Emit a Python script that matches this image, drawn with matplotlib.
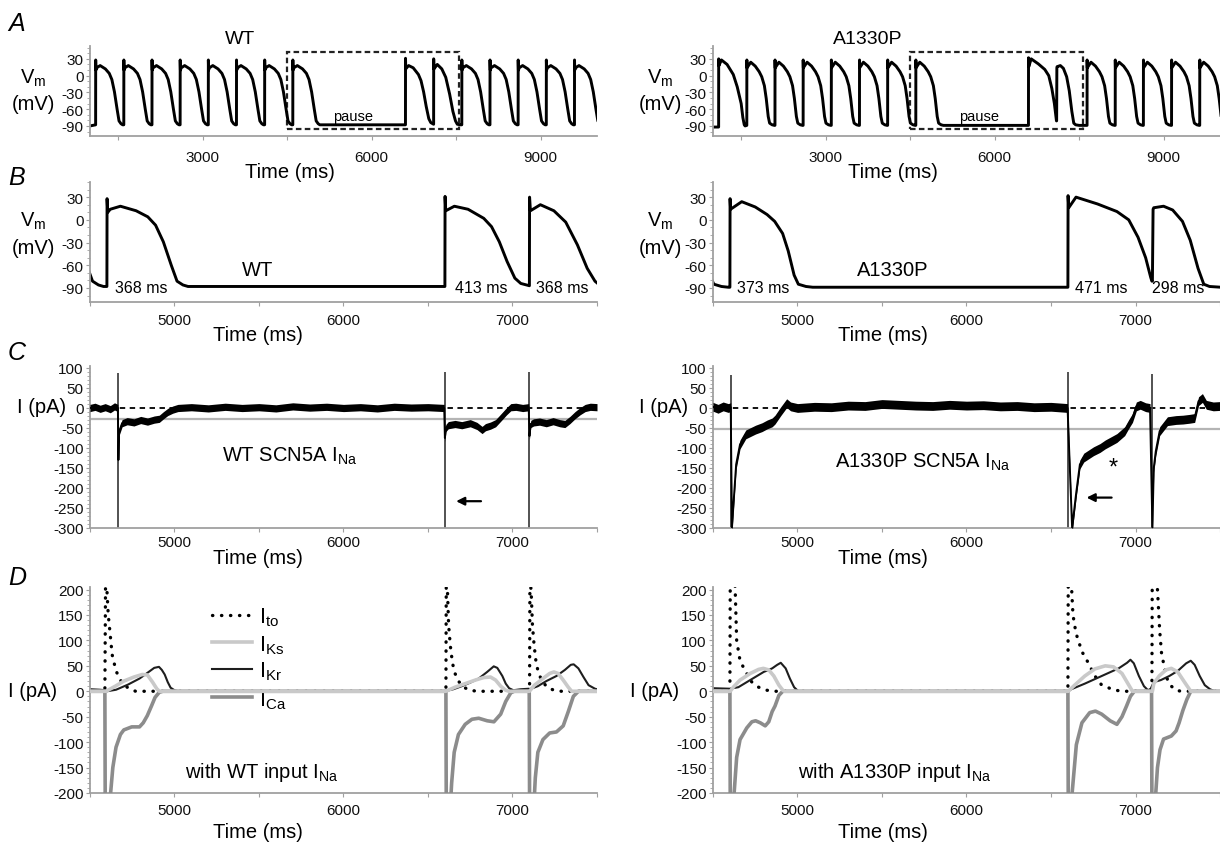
import matplotlib

matplotlib.use("Agg")
import matplotlib.pyplot as plt
import numpy as np
from matplotlib.patches import Rectangle
from matplotlib.ticker import FuncFormatter, MultipleLocator

plt.rcParams["font.family"] = ["Liberation Sans", "DejaVu Sans"]
plt.rcParams["axes.unicode_minus"] = False
plt.rcParams["mathtext.fontset"] = "custom"
plt.rcParams["mathtext.rm"] = "Liberation Sans"
plt.rcParams["mathtext.it"] = "Liberation Sans:italic"

W, H = 1220, 845

# ---- action potential shapes (time from upstroke in ms, mV)
AP_TEMPLATES = {
    "wt_ss": ([0, 1, 5, 20, 80, 173, 242, 288, 334, 381, 415, 450, 480],
              [-88, 28, 10, 14, 18, 12, 4, -7, -29, -60, -81, -86, -88]),
    "wt_pp1": ([0, 1, 5, 56, 137, 230, 276, 322, 368, 414, 449, 484, 499],
               [-88, 31, 12, 18, 14, 2, -9, -29, -55, -77, -84, -86, -87]),
    "wt_pp2": ([0, 1, 6, 65, 145, 215, 284, 342, 388, 420, 480],
               [-87, 30, 12, 20, 12, -3, -33, -64, -81, -87, -88]),
    "mut_first": ([0, 1, 5, 50, 150, 260, 330, 400, 430, 455, 470],
                  [-92, 30, 18, 28, 20, 2, -20, -50, -75, -88, -90]),
    "mut_ss": ([0, 1, 4, 70, 150, 220, 265, 312, 345, 380, 405, 450, 490],
               [-89, 28, 14, 24, 17, 7, -2, -18, -41, -73, -85, -88, -89]),
    "mut_pp1": ([0, 1, 5, 48, 175, 290, 360, 415, 460, 490, 497],
                [-89, 32, 16, 30, 21, 11, 0, -23, -50, -76, -81]),
    "mut_pp2": ([0, 4, 8, 66, 120, 178, 224, 270, 304, 338, 400, 530],
                [-81, 14, 16, 18, 13, -2, -27, -64, -85, -88, -89, -89]),
}

WT_ONSETS = [1100, 1600, 2100, 2600, 3100, 3600, 4100, 4600, 6600, 7100, 7600, 8100, 8600, 9100, 9600]
WT_KINDS = ["wt_ss"] * 8 + ["wt_pp1", "wt_pp2"] + ["wt_ss"] * 5
MUT_ONSETS = [1100, 1600, 2100, 2600, 3100, 3600, 4100, 4600, 6600, 7100, 7640, 8140, 8640, 9140, 9640]
MUT_KINDS = ["mut_first"] + ["mut_ss"] * 7 + ["mut_pp1", "mut_pp2"] + ["mut_ss"] * 5

BOX_T = [4500, 7550]
BOX_V = [-95, 42]

APD_WT = [(4802, "368 ms"), (6818, "413 ms"), (7292, "368 ms")]
APD_MUT = [(4798, "373 ms"), (6798, "471 ms"), (7253, "298 ms")]

# ---- panel C: sodium current traces (ms, pA), drawn as a noisy band of half-width C_*_NOISE
C_WT = [(4500, 0), (4530, 3), (4560, -2), (4590, 2), (4620, -3), (4645, 4), (4665, 0),
        (4668, -130), (4672, -60), (4690, -38), (4720, -33), (4760, -36), (4800, -30),
        (4840, -34), (4880, -29), (4910, -27), (4935, -18), (4960, -10), (4990, -4),
        (5020, 0), (5100, 2), (5200, -1), (5300, 3), (5400, 0), (5500, 2), (5600, -1),
        (5700, 4), (5800, 1), (5900, 3), (6000, 0), (6100, 2), (6200, -1), (6300, 3),
        (6400, 1), (6500, 2), (6596, 0), (6600, -75), (6606, -50), (6620, -43),
        (6660, -40), (6700, -43), (6750, -38), (6790, -45), (6820, -55), (6840, -48),
        (6870, -44), (6900, -38), (6935, -22), (6965, -8), (6990, 2), (7020, 3),
        (7060, 0), (7096, 2), (7100, -70), (7108, -40), (7125, -36), (7160, -34),
        (7200, -38), (7240, -33), (7280, -38), (7310, -40), (7340, -30), (7370, -18),
        (7400, -8), (7430, 0), (7460, 3), (7500, 2)]
C_MUT = [(4500, 3), (4530, -2), (4560, 4), (4590, 0), (4605, 2), (4612, -300),
         (4625, -216), (4637, -141), (4660, -91), (4694, -66), (4752, -54), (4790, -48),
         (4821, -41), (4850, -36), (4867, -29), (4901, -8), (4936, 12), (4959, 4),
         (5000, 0), (5100, 3), (5200, 2), (5300, 6), (5400, 5), (5500, 10), (5600, 8),
         (5700, 6), (5800, 5), (5900, 8), (6000, 6), (6100, 7), (6200, 4), (6300, 5),
         (6400, 2), (6500, 3), (6598, 0), (6625, -300), (6648, -216), (6671, -141),
         (6694, -124), (6752, -108), (6790, -100), (6821, -91), (6860, -82), (6890, -75),
         (6936, -58), (6960, -40), (6982, -25), (7005, 4), (7028, 8), (7060, 2),
         (7086, 0), (7100, -300), (7108, -150), (7120, -108), (7143, -58), (7189, -33),
         (7240, -30), (7281, -29), (7320, -27), (7350, -25), (7373, 17), (7396, 25),
         (7419, 8), (7460, 4), (7500, 5)]
C_WT_NOISE = 9
C_MUT_NOISE = 11
C_WT_SPIKES = [4667, 6598, 7098]
C_WT_SPIKE_TOPS = [87, 90, 90]
C_MUT_SPIKES = [4607, 6602, 7097]
C_MUT_SPIKE_TOPS = [83, 91, 85]
C_WT_REF = -27
C_MUT_REF = -52

# ---- panel D: other currents (ms, pA)
D_WT_ITO = [(4500, 0), (4588, 0), (4592, 215), (4600, 200), (4608, 150), (4620, 110),
            (4631, 72), (4654, 40), (4680, 22), (4700, 12), (4740, 4), (4770, 0),
            (6606, 0), (6608, 215), (6615, 200), (6622, 130), (6632, 90), (6645, 55),
            (6660, 35), (6680, 20), (6710, 8), (6750, 2), (6790, 0), (7101, 0),
            (7103, 215), (7110, 200), (7118, 130), (7128, 90), (7140, 55), (7155, 35),
            (7175, 20), (7205, 8), (7245, 2), (7290, 0), (7500, 0)]
D_WT_IKS = [(4500, 0), (4595, 0), (4650, 10), (4700, 20), (4760, 28), (4810, 33),
            (4840, 32), (4870, 18), (4895, 5), (4910, 0), (6605, 0), (6660, 8),
            (6720, 15), (6780, 22), (6830, 27), (6870, 28), (6900, 22), (6930, 10),
            (6960, 2), (6980, 0), (7100, 0), (7130, 12), (7180, 25), (7220, 35),
            (7245, 38), (7270, 35), (7300, 22), (7330, 8), (7350, 0), (7500, 0)]
D_WT_IKR = [(4500, 4), (4560, 3), (4590, 2), (4600, 0), (4654, 3), (4724, 13),
            (4793, 25), (4839, 36), (4880, 46), (4908, 48), (4925, 42), (4942, 33),
            (4960, 18), (4977, 7), (5000, 2), (5023, 0), (6600, 0), (6650, 4),
            (6700, 10), (6750, 17), (6800, 25), (6850, 38), (6889, 49), (6910, 46),
            (6940, 30), (6960, 15), (6980, 6), (7005, 2), (7050, 4), (7098, 5),
            (7101, 4), (7150, 10), (7200, 20), (7260, 30), (7310, 42), (7345, 52),
            (7362, 53), (7390, 45), (7420, 28), (7450, 12), (7488, 5), (7500, 4)]
D_WT_ICA = [(4500, 0), (4588, 0), (4590, -215), (4618, -215), (4622, -200),
            (4635, -150), (4654, -110), (4680, -85), (4700, -76), (4747, -70),
            (4793, -70), (4815, -62), (4839, -48), (4865, -28), (4885, -12), (4910, -2),
            (4931, 0), (6606, 0), (6608, -215), (6634, -215), (6640, -180), (6655, -120),
            (6680, -85), (6720, -65), (6760, -55), (6800, -53), (6850, -58), (6890, -60),
            (6930, -45), (6960, -20), (6990, -3), (7010, 0), (7099, 0), (7101, -215),
            (7128, -215), (7135, -170), (7150, -120), (7180, -95), (7220, -82),
            (7260, -80), (7300, -68), (7330, -40), (7360, -10), (7390, 0), (7500, 0)]

D_MUT_ITO = [(4500, 0), (4600, 0), (4602, 215), (4630, 215), (4640, 100), (4660, 60),
             (4694, 38), (4730, 18), (4770, 8), (4820, 2), (4870, 0), (6600, 0),
             (6602, 215), (6620, 215), (6630, 150), (6648, 114), (6683, 78), (6717, 58),
             (6760, 30), (6798, 13), (6867, 3), (6920, 0), (7097, 0), (7099, 215),
             (7130, 200), (7143, 120), (7154, 75), (7175, 40), (7189, 23), (7212, 10),
             (7240, 2), (7270, 0), (7500, 0)]
D_MUT_IKS = [(4500, 0), (4602, 0), (4620, 8), (4660, 22), (4720, 35), (4770, 43),
             (4798, 45), (4830, 42), (4860, 30), (4890, 12), (4913, 2), (4924, 0),
             (6602, 0), (6640, 12), (6700, 30), (6760, 44), (6821, 50), (6870, 48),
             (6920, 35), (6950, 18), (6982, 0), (7100, 0), (7108, 15), (7140, 30),
             (7180, 42), (7212, 45), (7250, 38), (7290, 18), (7327, 0), (7500, 0)]
D_MUT_IKR = [(4500, 6), (4600, 5), (4650, 8), (4700, 18), (4750, 28), (4800, 38),
             (4850, 45), (4880, 52), (4901, 56), (4930, 45), (4955, 25), (4980, 8),
             (5005, 0), (6602, 0), (6620, 4), (6700, 15), (6800, 30), (6900, 45),
             (6950, 56), (6970, 62), (6990, 55), (7020, 30), (7050, 10), (7074, 2),
             (7090, 5), (7108, 18), (7150, 22), (7200, 30), (7250, 40), (7300, 55),
             (7327, 60), (7350, 52), (7380, 30), (7410, 12), (7441, 4), (7470, 0),
             (7500, 0)]
D_MUT_ICA = [(4500, 0), (4600, 0), (4602, -215), (4622, -215), (4625, -200),
             (4640, -130), (4660, -95), (4700, -72), (4730, -60), (4752, -58),
             (4780, -62), (4809, -68), (4830, -60), (4850, -40), (4867, -29), (4890, -8),
             (4913, 0), (6600, 0), (6602, -215), (6622, -215), (6625, -200), (6650, -105),
             (6683, -62), (6729, -42), (6763, -39), (6800, -45), (6850, -58), (6890, -65),
             (6920, -50), (6947, -29), (6970, -10), (6993, 0), (7095, 0), (7097, -215),
             (7117, -215), (7120, -200), (7130, -150), (7145, -115), (7166, -94),
             (7212, -88), (7240, -78), (7258, -62), (7280, -38), (7304, -16), (7327, 0),
             (7500, 0)]

LEGEND_LABELS = ["I$_\\mathrm{to}$", "I$_\\mathrm{Ks}$", "I$_\\mathrm{Kr}$", "I$_\\mathrm{Ca}$"]
LEGEND_Y = [150, 96, 44, -12]
LEGEND_T = [5220, 5460]

CURRENT_STYLE = {
    "ito": dict(color="black", lw=2.4, ls=(0, (0.1, 2.6)), dash_capstyle="round", zorder=1),
    "ikr": dict(color="#1e1e1e", lw=1.5, zorder=2),
    "ica": dict(color="#8c8c8c", lw=2.6, zorder=3),
    "iks": dict(color="#c9c9c9", lw=2.6, zorder=4),
}

fig = plt.figure(figsize=(W / 100, H / 100), dpi=100)


def px_axes(x0, y0, x1, y1):
    return fig.add_axes([x0 / W, 1 - y1 / H, (x1 - x0) / W, (y1 - y0) / H])


def ftext(x, y, s, **kw):
    kw.setdefault("ha", "center")
    kw.setdefault("va", "center")
    return fig.text(x / W, 1 - y / H, s, **kw)


def style(ax, xlim, ylim, yticks, xstep, xlabel_every, xpad, xlabel_xy):
    ax.set_xlim(*xlim)
    ax.set_ylim(*ylim)
    ax.patch.set_alpha(0)
    for s in ("top", "right"):
        ax.spines[s].set_visible(False)
    for s in ("left", "bottom"):
        ax.spines[s].set_color("#a0a0a0")
        ax.spines[s].set_linewidth(1.3)
    ax.set_yticks(yticks)
    ax.yaxis.set_minor_locator(MultipleLocator(10))
    ax.xaxis.set_major_locator(MultipleLocator(xstep))
    ax.xaxis.set_major_formatter(
        FuncFormatter(lambda v, p: f"{v:.0f}" if abs(v % xlabel_every) < 1e-6 else ""))
    ax.tick_params(which="both", colors="#a0a0a0", labelcolor="#111111", labelsize=11,
                   direction="out")
    ax.tick_params(which="major", length=3)
    ax.tick_params(which="minor", length=2)
    ax.tick_params(axis="x", pad=xpad)
    ax.tick_params(axis="y", pad=1.5)
    ax.set_xlabel("Time (ms)", fontsize=14.5)
    ax.xaxis.set_label_coords(xlabel_xy[0] / W, 1 - xlabel_xy[1] / H, transform=fig.transFigure)
    ax.xaxis.label.set_va("center")


def build_ap(onsets, kinds, t0, v0):
    t, v = [t0], [v0]
    for on, kind in zip(onsets, kinds):
        tt, vv = AP_TEMPLATES[kind]
        t.extend(on + np.asarray(tt, dtype=float))
        v.extend(vv)
    return np.array(t), np.array(v)


def unzip(pairs):
    arr = np.asarray(pairs, dtype=float)
    return arr[:, 0], arr[:, 1]


COLS = {"left": (90, 597), "right": (713, 1220)}
ROWS = {"A": (47, 137), "B": (183, 303), "C": (367, 529), "D": (588, 794)}

wt_t, wt_v = build_ap(WT_ONSETS, WT_KINDS, 1000, -90)
mut_t, mut_v = build_ap(MUT_ONSETS, MUT_KINDS, 1000, -92)

for col, (t, v, title, title_x, pause_t, apds, ylab_x, box_r, b_lab_t) in {
    "left": (wt_t, wt_v, "WT", 240, 5667, APD_WT, 33, BOX_T[1], 5490),
    "right": (mut_t, mut_v, "A1330P", 868, 5720, APD_MUT, 660, BOX_T[1] + 10, 5565),
}.items():
    x0, x1 = COLS[col]
    # row A: full pacing train
    ax = px_axes(x0, ROWS["A"][0], x1, ROWS["A"][1])
    ax.plot(t, v, color="black", lw=2.1, solid_joinstyle="round")
    ax.add_patch(Rectangle((BOX_T[0], BOX_V[0]), box_r - BOX_T[0], BOX_V[1] - BOX_V[0],
                           fill=False, ls=(0, (2.5, 1.5)), lw=1.6, ec="#222222"))
    ax.text(pause_t, -73, "pause", fontsize=10.5, ha="center", va="center")
    style(ax, (1000, 10000), (-108, 53), [30, 0, -30, -60, -90], 1500, 3000, 7,
          (290 if col == "left" else 893, 172))
    ftext(title_x, 40, title, fontsize=14)
    ftext(ylab_x, 78, "V$_\\mathrm{m}$", fontsize=14.5)
    ftext(ylab_x, 105, "(mV)", fontsize=14.5)

    # row B: zoom on the pause
    ax = px_axes(x0, ROWS["B"][0], x1, ROWS["B"][1])
    ax.plot(t, v, color="black", lw=2.1, solid_joinstyle="round")
    for tt, s in apds:
        ax.text(tt, -89, s, fontsize=11.5, ha="center", va="center")
    ax.text(b_lab_t, -65, title, fontsize=14.5, ha="center", va="center")
    style(ax, (4500, 7500), (-108.5, 50), [30, 0, -30, -60, -90], 500, 1000, 5,
          (258 if col == "left" else 883, 336))
    ftext(ylab_x, 221, "V$_\\mathrm{m}$", fontsize=14.5)
    ftext(ylab_x, 249, "(mV)", fontsize=14.5)

# ---- row C
for col, (trace, noise, spikes, tops, ref, label, lab_t, lab_i, arrow_t, arrow_i, ilab_x) in {
    "left": (C_WT, C_WT_NOISE, C_WT_SPIKES, C_WT_SPIKE_TOPS, C_WT_REF,
             "WT SCN5A I$_\\mathrm{Na}$", 5680, -118, (6830, 6650), -233, 42),
    "right": (C_MUT, C_MUT_NOISE, C_MUT_SPIKES, C_MUT_SPIKE_TOPS, C_MUT_REF,
              "A1330P SCN5A I$_\\mathrm{Na}$", 5740, -133, (6875, 6694), -224, 664),
}.items():
    x0, x1 = COLS[col]
    ax = px_axes(x0, ROWS["C"][0], x1, ROWS["C"][1])
    ax.axhline(ref, color="#b4b4b4", lw=1.6, zorder=1)
    ax.axhline(0, color="black", lw=1.3, ls=(0, (3, 2.5)), zorder=1)
    ax.vlines(spikes, -300, tops, color="#444444", lw=1.3, zorder=2)
    ct, ci = unzip(trace)
    ax.fill_between(ct, ci - noise, ci + noise, color="black", lw=0, zorder=3)
    ax.plot(ct, ci, color="black", lw=1.4, zorder=3)
    ax.text(lab_t, lab_i, label, fontsize=14.5, ha="center", va="center")
    ax.annotate("", xy=(arrow_t[1], arrow_i), xytext=(arrow_t[0], arrow_i),
                arrowprops=dict(arrowstyle="-|>", color="black", lw=1.6, mutation_scale=12))
    if col == "right":
        ax.text(6867, -150, "*", fontsize=17, ha="center", va="center")
    style(ax, (4500, 7500), (-300, 105), list(range(-300, 101, 50)), 500, 1000, 2,
          (258 if col == "left" else 883, 558))
    ftext(ilab_x, 408, "I (pA)", fontsize=14.5)

# ---- row D
for col, (ito, iks, ikr, ica, label, lab_t, ilab_x) in {
    "left": (D_WT_ITO, D_WT_IKS, D_WT_IKR, D_WT_ICA, "with WT input I$_\\mathrm{Na}$", 5518, 33),
    "right": (D_MUT_ITO, D_MUT_IKS, D_MUT_IKR, D_MUT_ICA, "with A1330P input I$_\\mathrm{Na}$", 5579, 655),
}.items():
    x0, x1 = COLS[col]
    ax = px_axes(x0, ROWS["D"][0], x1, ROWS["D"][1])
    for key, data in (("ito", ito), ("ikr", ikr), ("ica", ica), ("iks", iks)):
        dt, di = unzip(data)
        ax.plot(dt, di, **CURRENT_STYLE[key])
    ax.text(lab_t, -157, label, fontsize=14.5, ha="center", va="center")
    if col == "left":
        for key, y, lab in zip(("ito", "iks", "ikr", "ica"), LEGEND_Y, LEGEND_LABELS):
            st = dict(CURRENT_STYLE[key])
            st["zorder"] = 5
            ax.plot(LEGEND_T, [y, y], **st)
            ax.text(LEGEND_T[1] + 40, y - 4, lab, fontsize=15.5, ha="left", va="center")
    style(ax, (4500, 7500), (-200, 205), list(range(-200, 201, 50)), 500, 1000, 4,
          (258 if col == "left" else 883, 833))
    ftext(ilab_x, 692, "I (pA)", fontsize=14.5)

for letter, y in (("A", 24), ("B", 178), ("C", 353), ("D", 578)):
    ftext(17, y, letter, fontsize=18, style="italic")

fig.savefig("out.png", dpi=100)
